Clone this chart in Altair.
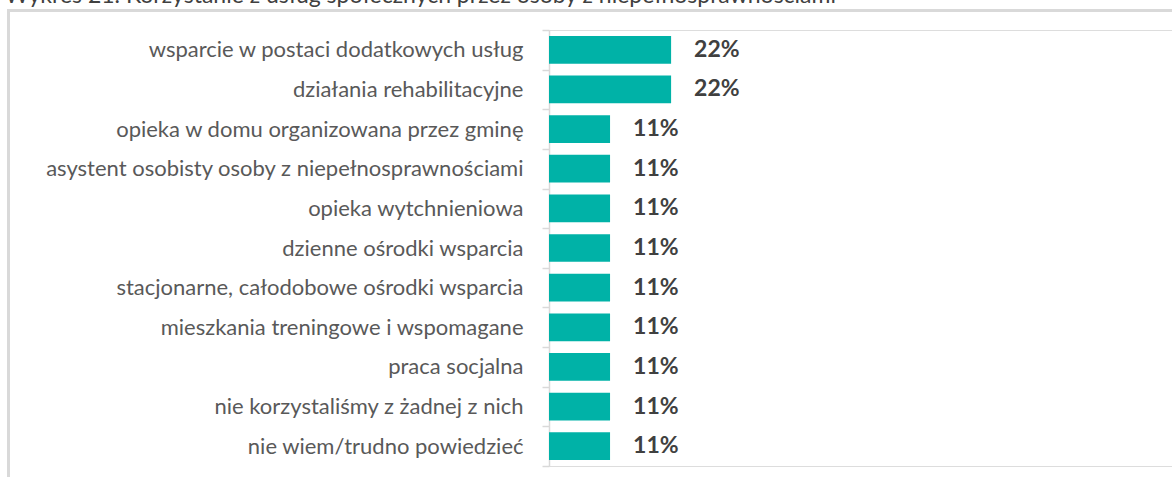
import altair as alt
import pandas as pd

categories = [
    "wsparcie w postaci dodatkowych usług",
    "działania rehabilitacyjne",
    "opieka w domu organizowana przez gminę",
    "asystent osobisty osoby z niepełnosprawnościami",
    "opieka wytchnieniowa",
    "dzienne ośrodki wsparcia",
    "stacjonarne, całodobowe ośrodki wsparcia",
    "mieszkania treningowe i wspomagane",
    "praca socjalna",
    "nie korzystaliśmy z żadnej z nich",
    "nie wiem/trudno powiedzieć",
]
values = [22, 22, 11, 11, 11, 11, 11, 11, 11, 11, 11]
labels = [f"{v}%" for v in values]

title_text = "Wykres 21. Korzystanie z usług społecznych przez osoby z niepełnosprawnościami"

df = pd.DataFrame({"cat": categories, "val": values, "lab": labels})

W = 623
H = 436
PX_PER_PCT = 5.55
LEFT = 549
TOP = 30

y_enc = alt.Y(
    "cat:N",
    sort=None,
    title=None,
    scale=alt.Scale(paddingInner=0, paddingOuter=0),
    axis=alt.Axis(
        domainColor="#d9d9d9",
        domainWidth=1.5,
        tickColor="#d9d9d9",
        tickWidth=1.5,
        tickSize=7,
        tickBand="extent",
        labelPadding=19,
        labelFont="Lato",
        labelFontSize=22,
        labelColor="#595959",
        labelLimit=600,
    ),
)
x_enc = alt.X(
    "val:Q",
    title=None,
    axis=None,
    scale=alt.Scale(domain=[0, W / PX_PER_PCT], nice=False, zero=True),
)

base = alt.Chart(df)

bars = base.mark_bar(color="#00B2A7", height={"band": 0.7}).encode(x=x_enc, y=y_enc)

text = base.mark_text(
    align="left", baseline="middle", dx=23, font="Lato", fontSize=23,
    fontWeight="bold", color="#404040",
).encode(x=x_enc, y=y_enc, text="lab:N")

single = alt.Data(values=[{"t": title_text}])

frame = alt.Chart(single).mark_rect(
    fill=None, stroke="#d9d9d9", strokeWidth=3
).encode(
    x=alt.value(8.5 - LEFT),
    x2=alt.value(W + 40),
    y=alt.value(10.5 - TOP),
    y2=alt.value(H + 60),
)

title = alt.Chart(single).mark_text(
    align="left", baseline="alphabetic", font="Lato", fontSize=23,
    color="#404040",
).encode(
    x=alt.value(5 - LEFT),
    y=alt.value(3 - TOP),
    text="t:N",
)

chart = (
    alt.layer(frame, title, bars, text)
    .properties(
        width=W,
        height=H,
        padding={"left": LEFT, "top": TOP, "right": 0, "bottom": 11},
        autosize=alt.AutoSizeParams(type="none"),
    )
    .configure_view(stroke=None)
    .configure(background="white")
)

chart.save("out.html", embed_options={"renderer": "svg", "actions": False})
